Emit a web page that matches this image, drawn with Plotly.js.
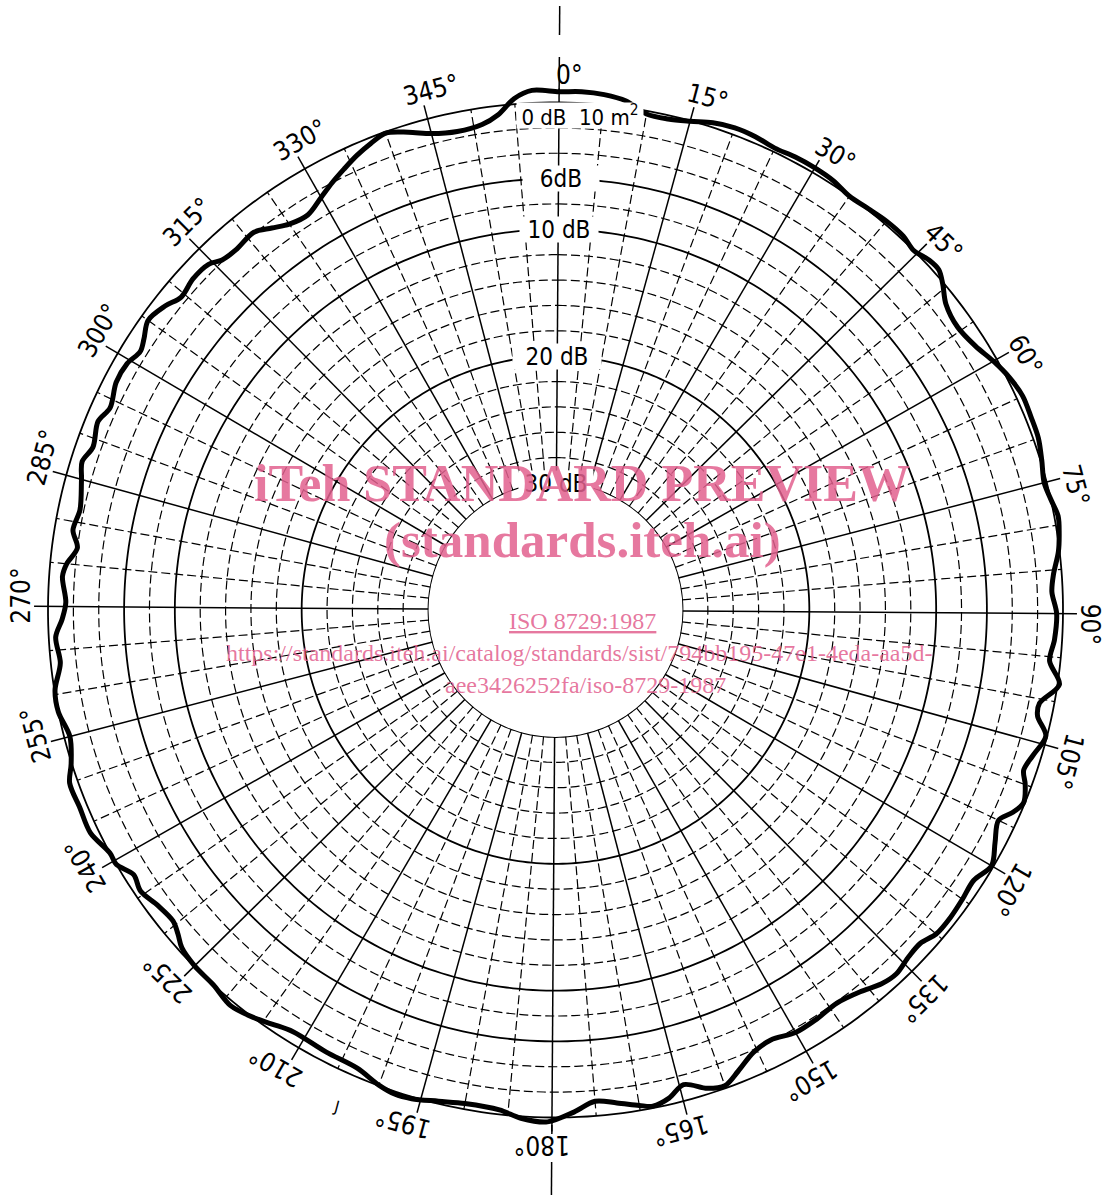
<!DOCTYPE html>
<html>
<head>
<meta charset="utf-8">
<script src="https://cdn.plot.ly/plotly-3.0.1.min.js"></script>
<style>
html,body{margin:0;padding:0;background:#fff;}
#chart{width:1106px;height:1195px;}
</style>
</head>
<body>
<div id="chart"></div>
<script>
// ---------------- data ----------------
// aspect angle in degrees (clockwise from 0° at top)
const aspectDeg = [
  0, 2.5, 5, 7.5, 10, 12.5, 15, 17.5, 20, 22.5, 25, 27.5, 30, 32.5, 35, 37.5, 40, 42.5, 44.5, 46.5,
  48, 49.5, 51.5, 54.5, 57.5, 60, 62.5, 65, 67.5, 70, 72.5, 75, 77, 79, 81, 83, 85.5, 87.5, 90, 93,
  95.5, 98, 100.5, 102, 104, 106.5, 108.5, 110, 112, 113.5, 115, 117.5, 120, 122.5, 125, 127.5, 130, 132, 134, 136.5,
  138.5, 141, 144, 147, 150, 153, 155.5, 158, 160, 162, 164.5, 166.5, 168.5, 170, 172.5, 175, 177.5, 180.5, 183.5, 186,
  190, 193, 196, 198, 200, 203, 207, 211.5, 214, 216, 219, 222, 225, 227.5, 229, 230.5, 233, 235.5, 237.5, 239.5,
  241, 244, 247, 250, 252, 255, 258, 260.5, 263.5, 266.5, 268.5, 270.5, 273.5, 275, 277, 279, 281.5, 285, 287, 289,
  292, 294, 297, 299.5, 301.5, 303, 305, 307.5, 309.5, 312, 314.5, 316, 318, 321, 323, 325, 327.5, 330, 332, 334,
  336, 338, 340, 342.5, 345, 348, 351, 353, 355, 357, 360
];
// level below the 0 dB (10 m²) reference, in dB (negative = above the reference)
const levelDb = [
  -0.85, -0.9, -0.8, -0.5, 0.25, 0.3, 0.05, -0.35, -0.55, -0.5, -0.3, -0.4, -0.4, -0.3, 0.0, -0.1, -0.25, -0.25, 0.0, -0.35,
  -0.4, 0.1, 0.9, 1.25, 0.9, 0.3, -0.2, -0.5, -0.45, -0.4, -0.1, 0.2, 0.0, -0.3, -0.15, 0.1, 0.65, 0.85, 0.5, 0.6,
  0.85, -0.15, 1.15, 1.1, 0.1, 0.65, 1.0, 0.5, 0.1, 0.6, 1.35, 0.8, 0.15, 0.75, 0.65, 0.55, 0.6, 1.05, 1.0, 0.7,
  0.9, 1.5, 1.9, 1.75, 1.7, 2.1, 1.8, 0.9, 0.2, 0.45, 1.25, 0.5, 0.15, 0.4, 0.85, 1.15, 0.4, -0.35, -0.15, 0.35,
  0.45, 0.2, -0.15, -0.2, 0.05, 0.65, 0.75, 0.85, 0.45, 0.05, -0.35, 0.0, 0.05, 0.3, 0.8, 1.15, 0.95, 0.5, 0.75, 0.0,
  0.0, -0.65, -0.6, -0.65, -0.05, 0.45, 0.0, 0.05, 0.75, 0.55, 1.1, 1.4, 1.05, 1.3, 2.0, 1.45, 1.7, 1.25, 0.9, 1.35,
  1.0, 1.45, 1.0, 1.05, 1.45, 1.15, 0.6, 1.0, 1.55, 1.3, 1.4, 1.9, 2.05, 1.9, 2.5, 3.05, 3.25, 2.6, 2.0, 1.45,
  0.9, 0.45, 0.1, 0.6, 1.2, 1.5, 1.3, 0.7, -0.45, -1.0, -0.85
];
const angleTicks = [0, 15, 30, 45, 60, 75, 90, 105, 120, 135, 150, 165, 180, 195, 210, 225, 240, 255, 270, 285, 300, 315, 330, 345];
const angleTickText = ['0°','15°','30°','45°','60°','75°','90°','105°','120°','135°','150°','165°','180°','195°','210°','225°','240°','255°','270°','285°','300°','315°','330°','345°'];
const solidRingsDb = [0, 6, 10, 20, 30];
const dashedRingsDb = [2, 4, 8, 12, 14, 16, 18, 22, 24, 26, 28];
const dbLabelText = ['0 dB\u00a0\u00a010 m<sup>2</sup>', '6dB', '10 dB', '20 dB', '30 dB'];
const dbLabelLevel = [1, 6, 10, 20, 30];
const watermarkText = ['iTeh STANDARD PREVIEW', '(standards.iteh.ai)', '<u>ISO 8729:1987</u>',
  'https://standards.iteh.ai/catalog/standards/sist/794bb195-47e1-4eda-aa5d-', 'aee3426252fa/iso-8729-1987'];

// ---------------- geometry / styling ----------------
const W = 1106, H = 1195;
const CX = 555.5, CY = 610;           // centre of the diagram (px)
const R0 = 507.5;                      // radius of the 0 dB circle (px)
const R30 = 127;                       // radius of the 30 dB circle (px)
const PXDB = (R0 - R30) / 30;
const DB_MAX = 30, DB_MIN = -2;        // radial range (reversed)
const R_EDGE = R0 - DB_MIN * PXDB;
const HOLE = R30 / R_EDGE;
const ROT = 0.4;                       // slight clockwise tilt of the sheet
const FONT = 'DejaVu Sans Condensed, DejaVu Sans, sans-serif';

function paperXY(imgDeg, rPx) {
  const t = imgDeg * Math.PI / 180;
  return { x: (CX + rPx * Math.sin(t)) / W, y: 1 - (CY - rPx * Math.cos(t)) / H };
}
function dbToPx(db) { return R0 - db * PXDB; }

// grid traces
function ringTrace(levels, dash, width) {
  const th = [], rr = [];
  levels.forEach(lv => {
    for (let a = 0; a <= 360; a += 1) { th.push(a); rr.push(lv); }
    th.push(null); rr.push(null);
  });
  return { type: 'scatterpolar', mode: 'lines', theta: th, r: rr, connectgaps: false,
    line: { color: '#000', width: width, dash: dash }, hoverinfo: 'skip', showlegend: false };
}
const spokeSolidT = [], spokeSolidR = [], spokeDashT = [], spokeDashR = [];
for (let a = 0; a < 360; a += 5) {
  if (a % 15 === 0) {
    spokeSolidT.push(a, a, null); spokeSolidR.push(30, -1.1, null);
  } else {
    spokeDashT.push(a, a, null); spokeDashR.push(30, 0, null);
  }
}

const traces = [
  ringTrace(dashedRingsDb, '9px,4px', 1.2),
  { type: 'scatterpolar', mode: 'lines', theta: spokeDashT, r: spokeDashR, connectgaps: false,
    line: { color: '#000', width: 1.2, dash: '9px,4px' }, hoverinfo: 'skip', showlegend: false },
  { type: 'scatterpolar', mode: 'lines', theta: spokeSolidT, r: spokeSolidR, connectgaps: false,
    line: { color: '#000', width: 1.5 }, hoverinfo: 'skip', showlegend: false },
  ringTrace(solidRingsDb, 'solid', 1.8),
  { type: 'scatterpolar', mode: 'lines', theta: aspectDeg, r: levelDb,
    line: { color: '#000', width: 5, shape: 'spline', smoothing: 0.9 }, hoverinfo: 'skip', showlegend: false }
];

// annotations
const annotations = [];
angleTicks.forEach((a, i) => {
  const p = paperXY(a + 1.5, 535);
  annotations.push({ xref: 'paper', yref: 'paper', x: p.x, y: p.y, xanchor: 'center', yanchor: 'middle',
    text: angleTickText[i], showarrow: false, textangle: a > 180 ? a - 360 : a,
    font: { family: FONT, size: 26, color: '#000' } });
});
const dbLabelW = [126, 76, 78, 88, 74];
const dbLabelDx = [21, 2, 1, 0, 0];
const dbLabelSize = [22, 24, 24, 24, 24];
dbLabelText.forEach((t, i) => {
  const p = paperXY(ROT, dbToPx(dbLabelLevel[i]));
  annotations.push({ xref: 'paper', yref: 'paper', x: p.x + dbLabelDx[i] / W, y: p.y, xanchor: 'center', yanchor: 'middle',
    text: t, showarrow: false, bgcolor: '#fff', width: dbLabelW[i], height: 25, borderpad: 0,
    font: { family: FONT, size: dbLabelSize[i], color: '#000' } });
});
// small stray mark near 200°
annotations.push({ xref: 'paper', yref: 'paper', x: 336 / W, y: 1 - 1106 / H, xanchor: 'center', yanchor: 'middle',
  text: 'J', showarrow: false, textangle: 15, font: { family: FONT, size: 16, color: '#000' } });
// watermark
const wmColor = 'rgba(226,96,142,0.85)';
const wmX = [582, 582, 582, 579, 585];
const wmY = [483, 540, 621, 653, 685];
const wmSize = [52, 51, 24, 24, 24];
const wmBold = [true, true, false, false, false];
watermarkText.forEach((t, i) => {
  annotations.push({ xref: 'paper', yref: 'paper', x: wmX[i] / W, y: 1 - wmY[i] / H, xanchor: 'center', yanchor: 'middle',
    text: wmBold[i] ? '<b>' + t + '</b>' : t, showarrow: false,
    font: { family: 'Liberation Serif, Times New Roman, serif', size: wmSize[i], color: wmColor } });
});

// extended 0°/180° axis segments outside the diagram
function seg(imgDeg, r1, r2) {
  const a = paperXY(imgDeg, r1), b = paperXY(imgDeg, r2);
  return { type: 'line', xref: 'paper', yref: 'paper', x0: a.x, y0: a.y, x1: b.x, y1: b.y,
    line: { color: '#000', width: 1.5 } };
}
const shapes = [seg(ROT, 520, 553), seg(ROT, 575, 604), seg(180 + ROT, 515, 524), seg(180 + ROT, 552, 590)];

const layout = {
  width: W, height: H,
  margin: { l: 0, r: 0, t: 0, b: 0, pad: 0 },
  paper_bgcolor: '#fff',
  showlegend: false,
  polar: {
    domain: { x: [(CX - R_EDGE) / W, (CX + R_EDGE) / W], y: [(H - CY - R_EDGE) / H, (H - CY + R_EDGE) / H] },
    hole: HOLE,
    bgcolor: 'rgba(0,0,0,0)',
    radialaxis: { range: [DB_MAX, DB_MIN], visible: false, showgrid: false, showline: false, showticklabels: false, ticks: '' },
    angularaxis: { direction: 'clockwise', rotation: 90 - ROT, visible: false, showgrid: false, showline: false,
      showticklabels: false, ticks: '' }
  },
  annotations: annotations,
  shapes: shapes
};

Plotly.newPlot('chart', traces, layout, { staticPlot: true, displayModeBar: false });
</script>
</body>
</html>
